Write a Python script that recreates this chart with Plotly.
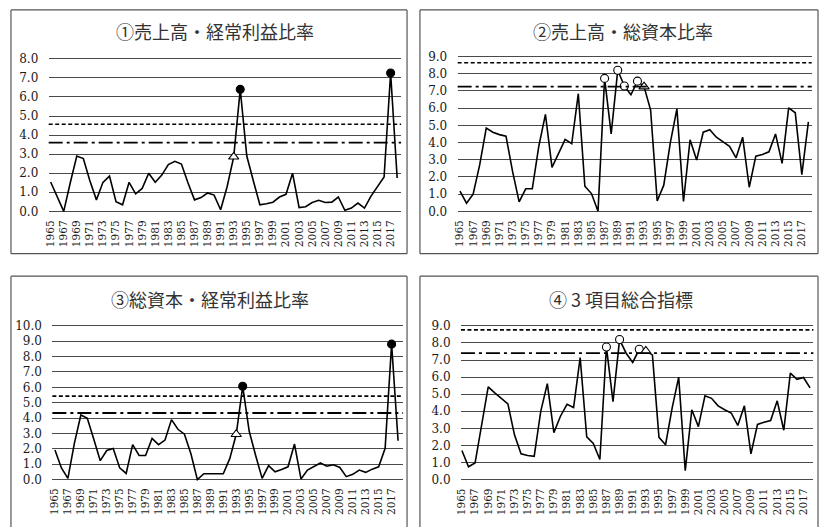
import plotly.graph_objects as go

W, H = 819, 527

years = list(range(1965, 2019))
tick_years = list(range(1965, 2018, 2))

# ① 売上高・経常利益比率
sales_profit = [1.54, 0.78, 0.0, 1.5, 2.9, 2.77, 1.6, 0.6, 1.52, 1.85,
                0.5, 0.34, 1.52, 0.92, 1.2, 2.0, 1.52, 1.9, 2.45, 2.62,
                2.48, 1.5, 0.6, 0.72, 0.96, 0.85, 0.08, 1.3, 2.86, 6.4,
                2.9, 1.6, 0.34, 0.4, 0.48, 0.75, 0.89, 2.0, 0.2, 0.24,
                0.46, 0.58, 0.46, 0.48, 0.75, 0.05, 0.17, 0.43, 0.17, 0.8,
                1.32, 1.8, 7.26, 1.75]
# ② 売上高・総資本比率
sales_capital = [1.18, 0.47, 0.99, 2.7, 4.84, 4.6, 4.46, 4.37, 2.32, 0.55,
                 1.31, 1.31, 3.8, 5.64, 2.56, 3.36, 4.18, 3.93, 6.84, 1.46,
                 1.03, 0.0, 7.73, 4.5, 8.2, 7.29, 6.78, 7.57, 7.25, 5.89,
                 0.6, 1.52, 4.0, 5.96, 0.57, 4.16, 2.98, 4.6, 4.75, 4.31,
                 4.03, 3.78, 3.11, 4.31, 1.4, 3.21, 3.3, 3.46, 4.5, 2.79,
                 6.02, 5.73, 2.13, 5.2]
# ③ 総資本・経常利益比率
capital_profit = [1.93, 0.76, 0.08, 2.36, 4.2, 3.99, 2.63, 1.23, 1.89, 2.02,
                  0.76, 0.4, 2.27, 1.57, 1.57, 2.68, 2.27, 2.57, 3.9, 3.27,
                  2.95, 1.68, 0.0, 0.38, 0.38, 0.38, 0.38, 1.36, 2.95, 6.07,
                  3.16, 1.57, 0.08, 0.91, 0.51, 0.66, 0.83, 2.31, 0.04, 0.62,
                  0.87, 1.08, 0.87, 0.96, 0.79, 0.19, 0.34, 0.62, 0.47, 0.68,
                  0.83, 2.04, 8.81, 2.53]
# ④ 3項目総合指標
composite = [1.7, 0.75, 0.97, 3.23, 5.43, 5.08, 4.76, 4.43, 2.62, 1.51,
             1.41, 1.36, 4.0, 5.62, 2.75, 3.71, 4.41, 4.22, 7.15, 2.5,
             2.12, 1.18, 7.76, 4.57, 8.2, 7.4, 6.86, 7.63, 7.53, 7.3,
             2.47, 2.04, 4.18, 6.0, 0.52, 4.09, 3.1, 4.91, 4.76, 4.32,
             4.09, 3.9, 3.17, 4.32, 1.51, 3.23, 3.36, 3.46, 4.61, 2.89,
             6.23, 5.87, 5.98, 5.37]

titles = ["①売上高・経常利益比率", "②売上高・総資本比率",
          "③総資本・経常利益比率", "④ 3 項目総合指標"]
series = [sales_profit, sales_capital, capital_profit, composite]
y_max = [8, 9, 10, 9]
upper_ref = [4.57, 8.64, 5.43, 8.77]   # dotted reference line
lower_ref = [3.6, 7.25, 4.33, 7.4]     # dash-dot reference line
filled_years = [[1994, 2017], [], [1994, 2017], []]
open_years = [[], [1987, 1989, 1990, 1992], [], [1987, 1989, 1992]]
triangle_years = [[1993], [1993], [1993], [1993]]

# panel geometry in pixels: plot box (left, right, zero pixel, px per unit), x range, frame box
panels = [
    dict(left=43, right=398, zero=210.7, unit=19.46, xr=[1964.7, 2018.6],
         frame=(5, 5, 404, 254), title_xy=(211, 27)),
    dict(left=455, right=811.7, zero=210.7, unit=17.56, xr=[1964.65, 2018.51],
         frame=(417, 5, 818, 254), title_xy=(622, 27)),
    dict(left=46.7, right=400, zero=484.7, unit=15.7, xr=[1964.6, 2018.77],
         frame=(5, 277, 404, 540), title_xy=(206, 300)),
    dict(left=458.3, right=813.3, zero=484.7, unit=17.44, xr=[1964.85, 2018.5],
         frame=(417, 277, 818, 540), title_xy=(620, 300)),
]

SERIF = "DejaVu Serif"
GRID = "#4a4a4a"
INVISIBLE = "rgba(0,0,0,0)"

fig = go.Figure()
layout = dict(width=W, height=H, margin=dict(l=0, r=0, t=0, b=0),
              paper_bgcolor="white", plot_bgcolor="white", showlegend=False,
              font=dict(family=SERIF, color="#1a1a1a"),
              shapes=[], annotations=[])

for k, (p, ys) in enumerate(zip(panels, series)):
    n = "" if k == 0 else str(k + 1)
    xa, ya = "x" + n, "y" + n
    lo, hi = -0.1, y_max[k] + 0.1
    bottom_px = p["zero"] - lo * p["unit"]
    top_px = p["zero"] - hi * p["unit"]
    layout["xaxis" + n] = dict(
        domain=[p["left"] / W, p["right"] / W], range=p["xr"], anchor=ya,
        tickmode="array", tickvals=tick_years, ticktext=[str(t) for t in tick_years],
        tickangle=-90, showgrid=False, zeroline=False, showline=False,
        ticks="outside", ticklen=2, tickcolor=INVISIBLE,
        tickfont=dict(family=SERIF, size=10.5, color="#1a1a1a"), fixedrange=True)
    layout["yaxis" + n] = dict(
        domain=[1 - bottom_px / H, 1 - top_px / H], range=[lo, hi], anchor=xa,
        tickmode="array", tickvals=list(range(0, y_max[k] + 1)),
        ticktext=[f"{v:.1f}" for v in range(0, y_max[k] + 1)],
        showgrid=True, gridcolor=GRID, gridwidth=1.4, zeroline=False,
        showline=False, ticks="outside", ticklen=7, tickcolor=INVISIBLE,
        tickfont=dict(family=SERIF, size=12, color="#1a1a1a"), fixedrange=True)

    # reference lines
    layout["shapes"].append(dict(type="line", xref=xa + " domain", yref=ya,
                                 x0=0, x1=1, y0=upper_ref[k], y1=upper_ref[k],
                                 line=dict(color="black", width=1.6, dash="4px,2.5px")))
    layout["shapes"].append(dict(type="line", xref=xa + " domain", yref=ya,
                                 x0=0, x1=1, y0=lower_ref[k], y1=lower_ref[k],
                                 line=dict(color="black", width=1.8,
                                           dash="14px,4px,3px,4px")))
    # panel frame
    fx0, fy0, fx1, fy1 = p["frame"]
    for (a, b, c, d) in [(fx0, fy0, fx1, fy0), (fx0, fy0, fx0, fy1), (fx1, fy0, fx1, fy1),
                         (fx0, fy1, fx1, fy1)]:
        layout["shapes"].append(dict(type="line", xref="paper", yref="paper",
                                     x0=a / W, x1=c / W, y0=1 - b / H, y1=1 - d / H,
                                     line=dict(color="#555555", width=1.2)))
    layout["annotations"].append(dict(
        text=titles[k], xref="paper", yref="paper",
        x=p["title_xy"][0] / W, y=1 - p["title_xy"][1] / H,
        xanchor="center", yanchor="middle", showarrow=False,
        font=dict(family="Noto Sans CJK JP", size=18, color="#333333")))

    fig.add_trace(go.Scatter(x=years, y=ys, mode="lines", xaxis=xa, yaxis=ya,
                             line=dict(color="black", width=1.6), hoverinfo="skip"))
    for yrs, sym, fill in [(filled_years[k], "circle", "black"),
                           (open_years[k], "circle", "white"),
                           (triangle_years[k], "triangle-up", "white")]:
        if not yrs:
            continue
        fig.add_trace(go.Scatter(
            x=yrs, y=[ys[years.index(v)] for v in yrs], mode="markers",
            xaxis=xa, yaxis=ya, cliponaxis=False,
            marker=dict(symbol=sym, size=9 if sym == "triangle-up" else 8,
                        color=fill, line=dict(color="black", width=1.1)),
            hoverinfo="skip"))

fig.update_layout(**layout)
fig.write_html("out.html")
